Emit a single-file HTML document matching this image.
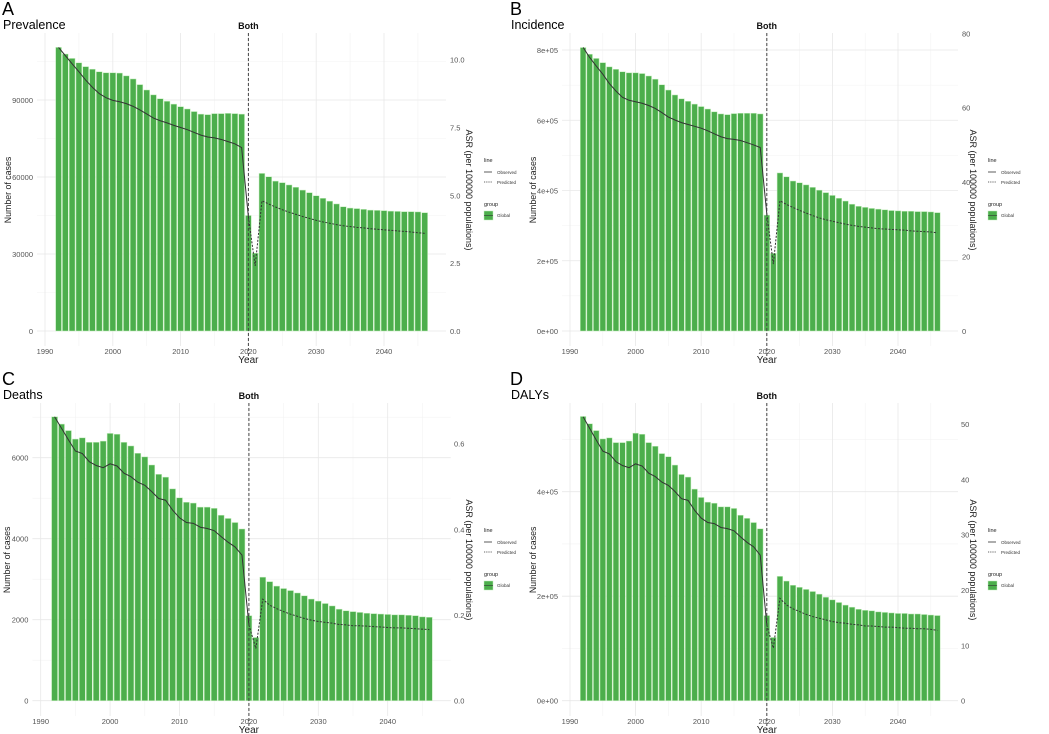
<!DOCTYPE html>
<html><head><meta charset="utf-8">
<style>
html,body{margin:0;padding:0;background:#fff;}
svg{display:block;font-family:"Liberation Sans",sans-serif;}
</style></head>
<body>
<svg id="chart" width="1049" height="734" viewBox="0 0 1049 734" xmlns="http://www.w3.org/2000/svg"></svg>
<script>
const years = [];
for (let y = 1992; y <= 2046; y++) years.push(y);
const obsYears = years.filter(y => y <= 2020);
const predYears = years.filter(y => y >= 2020);

// Panel A: Prevalence
const barsA = [110500,107900,106200,104500,103000,102000,101000,100600,100600,100500,99400,98200,96000,93900,92000,90500,89500,88400,87400,86500,85500,84500,84300,84700,84700,84800,84700,84500,45000,30300,61400,60100,58400,57800,56900,56000,54900,53900,52700,51700,50600,49500,48400,47900,47700,47400,47100,47000,46900,46700,46600,46500,46500,46400,46100];
const obsA = [10.45,10.15,9.85,9.56,9.25,8.98,8.75,8.6,8.5,8.45,8.38,8.28,8.15,8.0,7.85,7.75,7.67,7.58,7.5,7.42,7.32,7.22,7.15,7.12,7.06,6.98,6.9,6.76,4.2];
const predA = [4.2,2.4,4.8,4.68,4.57,4.47,4.38,4.3,4.22,4.15,4.08,4.02,3.97,3.92,3.88,3.85,3.82,3.8,3.77,3.75,3.73,3.71,3.69,3.67,3.65,3.62,3.6];
const leftTicksA = [0,30000,60000,90000];
const leftLabelsA = ["0","30000","60000","90000"];
const rightTicksA = [0,2.5,5,7.5,10];
const rightLabelsA = ["0.0","2.5","5.0","7.5","10.0"];

// Panel B: Incidence
const barsB = [807000,788000,776000,764000,752000,745000,738000,735000,735000,733000,726000,717000,701000,686000,672000,661000,654000,646000,639000,632000,624000,618000,616000,619000,620000,620000,620000,618000,330000,221000,450000,439000,427000,422000,416000,409000,401000,394000,386000,378000,370000,361000,355000,352000,349000,347000,345000,343000,342000,341000,341000,340000,340000,339000,337000];
const obsB = [76.2,73.5,71.2,69,66.5,64.5,62.8,62,61.6,61.2,60.6,59.8,58.7,57.5,56.7,56,55.5,55,54.5,53.8,53,52.2,51.7,51.5,51.2,50.6,50,49.3,31.5];
const predB = [31.5,18,35,34,33.2,32.4,31.7,31,30.4,29.9,29.5,29.1,28.7,28.4,28.1,27.9,27.7,27.5,27.4,27.3,27.2,27.1,26.9,26.8,26.7,26.6,26.4];
const leftTicksB = [0,200000,400000,600000,800000];
const leftLabelsB = ["0e+00","2e+05","4e+05","6e+05","8e+05"];
const rightTicksB = [0,20,40,60,80];
const rightLabelsB = ["0","20","40","60","80"];

// Panel C: Deaths
const barsC = [7010,6830,6670,6460,6490,6380,6380,6410,6600,6580,6380,6290,6110,6020,5820,5590,5520,5230,5010,4900,4880,4780,4780,4750,4580,4500,4400,4240,2100,1560,3050,2940,2830,2770,2720,2660,2590,2510,2460,2400,2340,2260,2220,2200,2180,2160,2150,2140,2130,2120,2120,2110,2100,2070,2060];
const obsC = [0.663,0.636,0.609,0.583,0.577,0.558,0.549,0.544,0.553,0.548,0.531,0.523,0.51,0.503,0.488,0.472,0.468,0.445,0.427,0.416,0.414,0.405,0.402,0.397,0.383,0.37,0.359,0.34,0.177];
const predC = [0.177,0.122,0.237,0.223,0.215,0.208,0.202,0.197,0.192,0.188,0.185,0.183,0.181,0.178,0.177,0.175,0.175,0.174,0.173,0.172,0.171,0.17,0.17,0.169,0.168,0.167,0.166];
const leftTicksC = [0,2000,4000,6000];
const leftLabelsC = ["0","2000","4000","6000"];
const rightTicksC = [0,0.2,0.4,0.6];
const rightLabelsC = ["0.0","0.2","0.4","0.6"];

// Panel D: DALYs
const barsD = [544000,530000,517000,501000,503000,494000,494000,497000,512000,510000,494000,487000,473000,467000,451000,433000,428000,405000,389000,380000,378000,371000,371000,368000,355000,349000,341000,329000,163000,121000,238000,229000,221000,217000,213000,209000,204000,198000,193000,188000,183000,179000,175000,173000,172000,170000,169000,168000,167000,167000,166000,166000,165000,164000,163000];
const obsD = [51.3,49.2,47.1,45.1,44.6,43.2,42.5,42.1,42.8,42.4,41.1,40.5,39.5,38.9,37.8,36.5,36.2,34.4,33,32.2,32,31.3,31.1,30.7,29.6,28.6,27.8,26.3,13.7];
const predD = [13.7,9.5,18.5,17.3,16.6,16.1,15.6,15.2,14.9,14.6,14.3,14.1,14,13.8,13.7,13.5,13.5,13.4,13.3,13.3,13.2,13.1,13.1,13,13,12.9,12.7];
const leftTicksD = [0,200000,400000];
const leftLabelsD = ["0e+00","2e+05","4e+05"];
const rightTicksD = [0,10,20,30,40,50];
const rightLabelsD = ["0","10","20","30","40","50"];

const xTicks = [1990,2000,2010,2020,2030,2040];
const xMinor = [1995,2005,2015,2025,2035,2045];

const NS = "http://www.w3.org/2000/svg";
const svg = document.getElementById("chart");
function mk(tag, attrs, parent) {
  const e = document.createElementNS(NS, tag);
  for (const k in attrs) e.setAttribute(k, attrs[k]);
  (parent || svg).appendChild(e);
  return e;
}
function txt(s, attrs, parent) { const e = mk("text", attrs, parent); e.textContent = s; return e; }

const panels = [
  {id:"a", letter:"A", title:"Prevalence", ox:0, oy:0, x0:45, pxYr:6.78, base:331, lref:[90000,100], rref:[10,59.7], top:33, bottom:346, left:37, right:446, rl:450, rt:466, lt:8, lg:484,
   bars:barsA, obs:obsA, pred:predA, lt1:leftTicksA, ll:leftLabelsA, rt1:rightTicksA, rlab:rightLabelsA},
  {id:"b", letter:"B", title:"Incidence", ox:508, oy:0, x0:570, pxYr:6.56, base:331, lref:[800000,50], rref:[80,33.3], top:33, bottom:346, left:562, right:958, rl:962, rt:970, lt:533, lg:988,
   bars:barsB, obs:obsB, pred:predB, lt1:leftTicksB, ll:leftLabelsB, rt1:rightTicksB, rlab:rightLabelsB},
  {id:"c", letter:"C", title:"Deaths", ox:0, oy:370, x0:40.7, pxYr:6.94, base:700.7, lref:[6000,457.7], rref:[0.6,443.7], top:403, bottom:716, left:32.4, right:450.7, rl:454, rt:466, lt:7, lg:484,
   bars:barsC, obs:obsC, pred:predC, lt1:leftTicksC, ll:leftLabelsC, rt1:rightTicksC, rlab:rightLabelsC},
  {id:"d", letter:"D", title:"DALYs", ox:508, oy:370, x0:570, pxYr:6.56, base:700.7, lref:[400000,491.7], rref:[50,424], top:403, bottom:716, left:562, right:958, rl:961, rt:970, lt:533, lg:988,
   bars:barsD, obs:obsD, pred:predD, lt1:leftTicksD, ll:leftLabelsD, rt1:rightTicksD, rlab:rightLabelsD}
];

panels.forEach(p => {
  const g = mk("g", {});
  
  
  const xs = y => p.x0 + (y - 1990) * p.pxYr;
  const kL = (p.base - p.lref[1]) / p.lref[0];
  const kR = (p.base - p.rref[1]) / p.rref[0];
  const yL = v => p.base - v * kL;
  const yR = v => p.base - v * kR;

  const step = p.lt1[1] - p.lt1[0];
  p.lt1.forEach(v => { const yy = yL(v + step / 2); if (yy > p.top) {
    const l = mk("line", {x1:p.left, x2:p.right, y1:yy, y2:yy, stroke:"#f3f3f3", "stroke-width":0.6}, g);
    
    
  }});
  xMinor.forEach(v => {
    const l = mk("line", {x1:xs(v), x2:xs(v), y1:p.top, y2:p.bottom, stroke:"#f3f3f3", "stroke-width":0.6}, g);
    
    
  });
  p.lt1.forEach(v => {
    const l = mk("line", {x1:p.left, x2:p.right, y1:yL(v), y2:yL(v), stroke:"#e8e8e8", "stroke-width":0.8}, g);
    
    
  });
  xTicks.forEach(v => {
    const l = mk("line", {x1:xs(v), x2:xs(v), y1:p.top, y2:p.bottom, stroke:"#e8e8e8", "stroke-width":0.8}, g);
    
    
  });

  const bw = p.pxYr * 0.86;
  years.forEach((yr, i) => {
    const v = p.bars[i];
    const r = mk("rect", {x:xs(yr) - bw/2, y:yL(v), width:bw, height:p.base - yL(v), fill:"#4cae4c", stroke:"#c6efbf", "stroke-width":0.5}, g);
    
    
  });

  const obsPts = obsYears.map((yr, i) => xs(yr).toFixed(2) + "," + yR(p.obs[i]).toFixed(2)).join(" ");
  const ol = mk("polyline", {points:obsPts, fill:"none", stroke:"#333", "stroke-width":1}, g);
  
  
  const predPts = predYears.map((yr, i) => xs(yr).toFixed(2) + "," + yR(p.pred[i]).toFixed(2)).join(" ");
  const pl = mk("polyline", {points:predPts, fill:"none", stroke:"#333", "stroke-width":1, "stroke-dasharray":"2,1.5"}, g);
  
  

  const vl = mk("line", {x1:xs(2020), x2:xs(2020), y1:p.top, y2:p.bottom + 14, stroke:"#444", "stroke-width":1, "stroke-dasharray":"3,2"}, g);
  
  

  p.lt1.forEach((v, i) => {
    const t = txt(p.ll[i], {x:p.left - 4, y:yL(v) + 3, "font-size":7.5, fill:"#555", "text-anchor":"end"}, g);
    
    
  });
  p.rt1.forEach((v, i) => {
    const t = txt(p.rlab[i], {x:p.rl, y:yR(v) + 3, "font-size":7.5, fill:"#555"}, g);
    
    
  });
  xTicks.forEach(v => {
    const t = txt(String(v), {x:xs(v), y:p.bottom + 8, "font-size":7.5, fill:"#555", "text-anchor":"middle"}, g);
    
    
  });

  const xt = txt("Year", {x:xs(2020), y:p.bottom + 17, "font-size":10, fill:"#222", "text-anchor":"middle"}, g);
  
  
  const midY = (p.top + p.base) / 2 + 8;
  const ly = txt("Number of cases", {x:0, y:0, "font-size":8.8, fill:"#222", "text-anchor":"middle", transform:`translate(${p.lt + 3.2},${midY}) rotate(-90)`}, g);
  
  
  const ry = txt("ASR (per 100000 populations)", {x:0, y:0, "font-size":9, fill:"#222", "text-anchor":"middle", transform:`translate(${p.rt},${midY}) rotate(90)`}, g);
  
  

  const lt = txt(p.letter, {x:p.ox + 2, y:p.oy + 15, "font-size":18, fill:"#000"}, g);
  
  
  const st = txt(p.title, {x:p.ox + 3, y:p.oy + 29, "font-size":12.5, fill:"#000"}, g);
  
  
  const bt = txt("Both", {x:xs(2020), y:p.top - 4, "font-size":9, "font-weight":"bold", fill:"#111", "text-anchor":"middle"}, g);
  
  

  const dy = p.oy;
  const L = mk("g", {}, g);
  
  
  const t1 = txt("line", {x:p.lg, y:dy + 162, "font-size":5.5, fill:"#222"}, L);
  
  
  const k1 = mk("line", {x1:p.lg, x2:p.lg + 8, y1:dy + 172, y2:dy + 172, stroke:"#333", "stroke-width":0.8}, L);
  
  
  const e1 = txt("Observed", {x:p.lg + 13, y:dy + 174, "font-size":4.5, fill:"#333"}, L);
  
  
  const k2 = mk("line", {x1:p.lg, x2:p.lg + 8, y1:dy + 182, y2:dy + 182, stroke:"#333", "stroke-width":0.8, "stroke-dasharray":"1.2,1"}, L);
  
  
  const e2 = txt("Predicted", {x:p.lg + 13, y:dy + 184, "font-size":4.5, fill:"#333"}, L);
  
  
  const t2 = txt("group", {x:p.lg, y:dy + 206, "font-size":5.5, fill:"#222"}, L);
  
  
  const k3 = mk("rect", {x:p.lg, y:dy + 211, width:9, height:9, fill:"#4cae4c", stroke:"#c6efbf", "stroke-width":0.5}, L);
  
  
  const k4 = mk("line", {x1:p.lg, x2:p.lg + 9, y1:dy + 215.5, y2:dy + 215.5, stroke:"#333", "stroke-width":0.6}, L);
  
  
  const e3 = txt("Global", {x:p.lg + 13, y:dy + 217, "font-size":4.5, fill:"#333"}, L);
  
  
});
</script>
</body></html>
